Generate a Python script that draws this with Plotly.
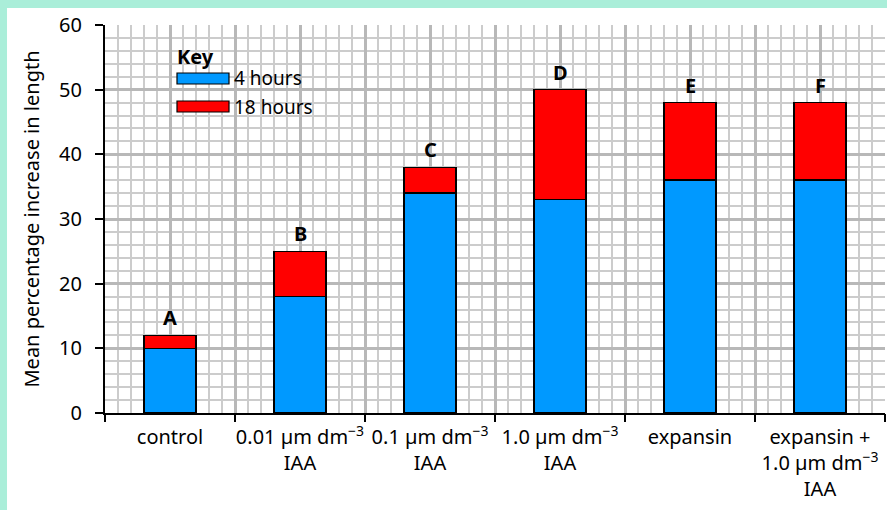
import plotly.graph_objects as go

categories = [
    "control",
    "0.01 µm dm<sup>−3</sup><br>IAA",
    "0.1 µm dm<sup>−3</sup><br>IAA",
    "1.0 µm dm<sup>−3</sup><br>IAA",
    "expansin",
    "expansin +<br>1.0 µm dm<sup>−3</sup><br>IAA",
]
bar_letters = ["A", "B", "C", "D", "E", "F"]
hours4 = [10, 18, 34, 33, 36, 36]
hours18 = [12, 25, 38, 50, 48, 48]
y_ticks = [0, 10, 20, 30, 40, 50, 60]

FONT = "Noto Sans"
FS = 20
BLUE = "#0099ff"
RED = "#ff0000"
MINT = "#aaeed9"

n = len(categories)
xs = list(range(n))
extra18 = [t - b for t, b in zip(hours18, hours4)]

fig = go.Figure()
fig.add_trace(go.Bar(x=xs, y=hours4, name="4 hours", width=0.4,
                     marker=dict(color=BLUE, line=dict(color="black", width=1.5)),
                     showlegend=False))
fig.add_trace(go.Bar(x=xs, y=extra18, name="18 hours", width=0.4,
                     marker=dict(color=RED, line=dict(color="black", width=1.5)),
                     showlegend=False))
fig.add_trace(go.Scatter(x=[], y=[], xaxis="x2", showlegend=False, hoverinfo="skip"))
fig.add_trace(go.Scatter(x=[], y=[], xaxis="x3", showlegend=False, hoverinfo="skip"))

half_vals = [i * 0.5 - 0.5 for i in range(2 * n + 1)]
boundaries = [i - 0.5 for i in range(n + 1)]

for i in xs:
    fig.add_annotation(x=i, y=hours18[i], text="<b>%s</b>" % bar_letters[i],
                       showarrow=False, yanchor="bottom", yshift=2,
                       font=dict(family=FONT, size=FS, color="black"))

# white panel over mint frame
fig.add_shape(type="rect", xref="paper", yref="paper",
              x0=(7 - 105) / 780, x1=1.2, y0=-0.5, y1=(413 - 8) / 388,
              fillcolor="white", line=dict(width=0), layer="below")

# key
def px_x(p):
    return (p - 105) / 780

def px_y(p):
    return (413 - p) / 388

fig.add_annotation(xref="paper", yref="paper", x=px_x(175), y=px_y(56),
                   text="<b>Key</b>", showarrow=False, xanchor="left", yanchor="middle",
                   font=dict(family=FONT, size=FS, color="black"))
for name, col, top in [("4 hours", BLUE, 73), ("18 hours", RED, 101)]:
    fig.add_shape(type="rect", xref="paper", yref="paper",
                  x0=px_x(177), x1=px_x(229), y0=px_y(top + 11), y1=px_y(top),
                  fillcolor=col, line=dict(color="black", width=1.2))
    fig.add_annotation(xref="paper", yref="paper", x=px_x(232), y=px_y(top + 5.5),
                       text=name, showarrow=False, xanchor="left", yanchor="middle",
                       font=dict(family=FONT, size=19, color="black"))

fig.update_layout(
    width=887, height=510,
    margin=dict(l=105, r=2, t=25, b=97, autoexpand=False),
    paper_bgcolor=MINT, plot_bgcolor="white",
    barmode="stack",
    font=dict(family=FONT, size=FS, color="black"),
    xaxis=dict(range=[-0.5, n - 0.5], tickmode="array", tickvals=half_vals,
               showticklabels=False, ticks="", showgrid=True, gridcolor="#b8b8b8", gridwidth=3,
               minor=dict(tickmode="linear", tick0=-0.5, dtick=0.1, showgrid=True,
                          gridcolor="#cccccc", gridwidth=1.5, ticks=""),
               showline=True, linecolor="black", linewidth=2, zeroline=False,
               automargin=False, fixedrange=True),
    xaxis2=dict(overlaying="x", anchor="y", side="bottom", range=[-0.5, n - 0.5],
                tickmode="array", tickvals=boundaries, ticks="outside", ticklen=8,
                tickwidth=1.5, tickcolor="black", showticklabels=False, showgrid=False,
                zeroline=False, showline=False, automargin=False, fixedrange=True),
    xaxis3=dict(overlaying="x", anchor="y", side="bottom", range=[-0.5, n - 0.5],
                tickmode="array", tickvals=xs, ticktext=categories, ticks="", tickangle=0,
                showgrid=False, zeroline=False, showline=False,
                tickfont=dict(family=FONT, size=FS), ticklabelstandoff=10,
                automargin=False, fixedrange=True),
    yaxis=dict(range=[0, 60], tickmode="array", tickvals=y_ticks, ticks="outside", ticklen=8,
               tickwidth=1.5, tickcolor="black", showline=True, linecolor="black", linewidth=2,
               showgrid=True, gridcolor="#b8b8b8", gridwidth=3, zeroline=False,
               minor=dict(tickmode="linear", tick0=0, dtick=2, showgrid=True,
                          gridcolor="#cccccc", gridwidth=1.5, ticks=""),
               tickfont=dict(family=FONT, size=FS), ticklabelstandoff=9,
               title=dict(text="Mean percentage increase in length",
                          font=dict(family=FONT, size=FS), standoff=14),
               automargin=False, fixedrange=True),
)

fig.write_html("out.html", config={"displayModeBar": False},
               post_script="document.body.style.margin='0';")
